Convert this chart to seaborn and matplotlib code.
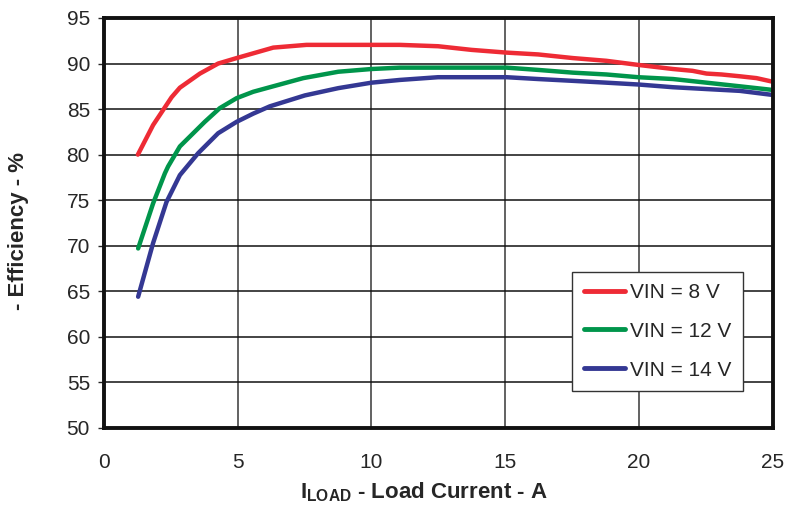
import pandas as pd
import numpy as np
import seaborn as sns
import matplotlib.pyplot as plt

# values
x_8v = [1.27, 1.84, 2.53, 2.84, 3.59, 4.27, 4.96, 6.33, 7.57, 11.06, 12.49, 13.74,
        15.05, 16.23, 17.53, 18.78, 19.97, 21.27, 22.0, 22.52, 23.08, 23.77, 24.39, 25.0]
eff_8v = [80.0, 83.25, 86.3, 87.35, 88.9, 90.0, 90.6, 91.75, 92.05, 92.05, 91.9, 91.5,
          91.2, 91.0, 90.6, 90.3, 89.85, 89.4, 89.2, 88.9, 88.8, 88.6, 88.4, 88.0]

x_12v = [1.28, 1.84, 2.28, 2.40, 2.84, 3.77, 4.33, 4.96, 5.58, 6.2, 7.45, 8.76, 10.0,
         11.06, 12.49, 15.05, 16.23, 17.53, 18.78, 19.97, 21.27, 22.52, 23.77, 25.0]
eff_12v = [69.7, 74.65, 77.95, 78.7, 80.9, 83.6, 85.1, 86.2, 86.9, 87.4, 88.4, 89.1, 89.4,
           89.55, 89.55, 89.55, 89.3, 89.0, 88.8, 88.5, 88.3, 87.9, 87.5, 87.1]

x_14v = [1.28, 1.84, 2.34, 2.84, 3.52, 4.27, 4.96, 5.58, 6.2, 7.51, 8.76, 10.0, 11.06,
         12.49, 15.05, 16.23, 17.53, 18.78, 19.97, 21.27, 22.52, 23.77, 25.0]
eff_14v = [64.4, 70.3, 74.8, 77.75, 80.15, 82.35, 83.6, 84.5, 85.3, 86.5, 87.3, 87.9, 88.2,
           88.5, 88.5, 88.3, 88.1, 87.9, 87.7, 87.4, 87.2, 87.0, 86.55]

labels = ['VIN = 8 V', 'VIN = 12 V', 'VIN = 14 V']
colors = ['#EE2B35', '#00954B', '#343893']

df = pd.concat([
    pd.DataFrame({'load': x_8v, 'eff': eff_8v, 'vin': labels[0]}),
    pd.DataFrame({'load': x_12v, 'eff': eff_12v, 'vin': labels[1]}),
    pd.DataFrame({'load': x_14v, 'eff': eff_14v, 'vin': labels[2]}),
])

sns.set_style('white')
plt.rcParams['font.family'] = ['Liberation Sans', 'DejaVu Sans']
plt.rcParams['mathtext.fontset'] = 'custom'
plt.rcParams['mathtext.rm'] = 'Liberation Sans:bold'

fig = plt.figure(figsize=(7.87, 5.07), dpi=100)
ax = fig.add_axes([0.132, 0.156, 0.850, 0.8085])

sns.lineplot(data=df, x='load', y='eff', hue='vin', palette=colors, sort=False,
             linewidth=3.2, ax=ax, estimator=None)

ax.set_xlim(0, 25)
ax.set_ylim(50, 95)
ax.set_xticks(range(0, 26, 5))
ax.set_yticks(range(50, 96, 5))

for x in range(5, 25, 5):
    ax.axvline(x, color='#555555', lw=1.3, zorder=0)
for y in range(55, 95, 5):
    ax.axhline(y, color='#111111', lw=1.1, zorder=0)

for s in ax.spines.values():
    s.set_visible(True)
    s.set_color('#111111')
    s.set_linewidth(2.8)

ax.tick_params(axis='y', length=4, width=1, direction='out', left=True, labelsize=15, pad=6)
ax.tick_params(axis='x', length=0, labelsize=15, pad=18)

ax.set_xlabel(r'I$_{\mathrm{LOAD}}$ - Load Current - A', fontsize=16, fontweight='bold')
ax.set_ylabel('- Efficiency - %', fontsize=16, fontweight='bold')
ax.xaxis.set_label_coords(0.478, -0.128)
ax.yaxis.set_label_coords(-0.112, 0.48)

leg = ax.legend(loc='lower left', bbox_to_anchor=(0.70, 0.09), borderaxespad=0, fontsize=15,
                frameon=True, fancybox=False, edgecolor='#333333', framealpha=1,
                handlelength=2.0, labelspacing=0.95, borderpad=0.55, handletextpad=0.25)
leg.get_frame().set_linewidth(1)
for line in leg.get_lines():
    line.set_linewidth(3.5)

fig.savefig('out.png', dpi=100)
